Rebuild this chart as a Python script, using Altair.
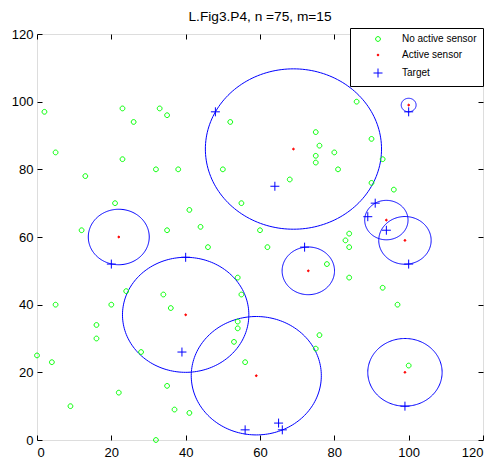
import altair as alt
import pandas as pd
import numpy as np

title_text = "L.Fig3.P4, n =75, m=15"
kinds = ["No active sensor", "Active sensor", "Target"]
tick_values = [0, 20, 40, 60, 80, 100, 120]

# sensors without activity (green circles)
green_x = [2, 23, 33, 35, 26, 5, 23, 52, 75, 76, 75, 75, 80, 86, 90, 13, 32, 38, 21, 41,
           12, 35, 24, 34, 50, 81, 68, 55, 44, 60, 46, 62, 78, 54, 55, 93, 90, 96, 84, 83,
           84, 84, 93, 5, 20, 36, 16, 16, 0, 4, 28, 22, 35, 9, 37, 41, 32, 54, 54, 53,
           76, 75, 56, 97, 100]
green_y = [97, 98, 98, 96, 94, 85, 83, 94, 91, 87, 84, 82, 85, 100, 89, 78, 80, 80, 70, 68,
           62, 62, 44, 43, 80, 80, 77, 70, 63, 62, 57, 57, 52, 48, 43, 83, 76, 74, 61, 59,
           57, 48, 45, 40, 40, 39, 34, 30, 25, 23, 26, 14, 16, 10, 9, 8, 0, 35, 33, 29,
           31, 27, 23, 40, 22]

# active sensors (red dots) and their sensing radius (blue circles)
red_x = [69, 100, 22, 73, 94, 99, 40, 59, 99]
red_y = [86, 99, 60, 50, 65, 59, 37, 19, 20]
radius = [23.7, 2.0, 8.2, 7.05, 5.83, 7.05, 17.0, 17.5, 10.0]

# targets (blue plus)
target_x = [48, 100, 20, 40, 64, 72, 91, 89, 94, 100, 39, 56, 65, 66, 99]
target_y = [97, 97, 52, 54, 75, 57, 70, 66, 62, 52, 26, 3, 5, 3, 10]

W, H = 446, 406
FONT = "Liberation Sans"

points = pd.DataFrame({
    "x": green_x + red_x + target_x,
    "y": green_y + red_y + target_y,
    "kind": [kinds[0]] * len(green_x) + [kinds[1]] * len(red_x) + [kinds[2]] * len(target_x),
})

angles = np.linspace(0, 2 * np.pi, 181)
rows = []
for i, (cx, cy, r) in enumerate(zip(red_x, red_y, radius)):
    for k, a in enumerate(angles):
        rows.append({"cid": i, "k": k, "x": cx + r * np.cos(a), "y": cy + r * np.sin(a)})
circles = pd.DataFrame(rows)

xscale = alt.Scale(domain=[0, 120], nice=False, zero=False)
yscale = alt.Scale(domain=[0, 120], nice=False, zero=False)


def ring_path(r):
    k = round(0.5523 * r, 4)
    return (f"M{r},0 C{r},{k} {k},{r} 0,{r} C{-k},{r} {-r},{k} {-r},0 "
            f"C{-r},{-k} {-k},{-r} 0,{-r} C{k},{-r} {r},{-k} {r},0 Z")


green_shape = ring_path(0.53)
red_shape = ring_path(0.2)
plus_shape = "M-1,0L1,0M0,-1L0,1"

legend = alt.Legend(
    title="", orient="none", legendX=313, legendY=-6, padding=6,
    strokeColor="black", fillColor="white", cornerRadius=0,
    labelFont=FONT, labelFontSize=10, labelColor="black",
    symbolOffset=17, labelOffset=19, rowPadding=6, symbolStrokeWidth=1, symbolSize=81,
)


def tick_axis(orient, offset):
    return alt.Axis(orient=orient, offset=offset, values=tick_values, labels=False,
                    domain=False, grid=False, ticks=True, tickSize=5, tickColor="black",
                    tickWidth=1, title="")


pts = alt.Chart(points).mark_point(filled=False, strokeWidth=1, opacity=1, size=81).encode(
    x=alt.X("x:Q", scale=xscale, title="",
            axis=alt.Axis(values=tick_values, ticks=False, domain=False, grid=False,
                          labelPadding=6, labelFont=FONT, labelFontSize=13, labelColor="black")),
    y=alt.Y("y:Q", scale=yscale, title="",
            axis=alt.Axis(values=tick_values, ticks=False, domain=False, grid=False,
                          labelPadding=4, labelFont=FONT, labelFontSize=13, labelColor="black")),
    color=alt.Color("kind:N", scale=alt.Scale(domain=kinds, range=["#00ff00", "#ff0000", "#0000ff"]), legend=legend),
    fill=alt.Fill("kind:N", scale=alt.Scale(domain=kinds, range=["transparent", "#ff0000", "transparent"]), legend=legend),
    shape=alt.Shape("kind:N", scale=alt.Scale(domain=kinds, range=[green_shape, red_shape, plus_shape]), legend=legend),
)

circ = alt.Chart(circles).mark_line(color="#0000ff", strokeWidth=1).encode(
    x=alt.X("x:Q", scale=xscale, axis=tick_axis("top", -H)),
    y=alt.Y("y:Q", scale=yscale, axis=tick_axis("right", -W)),
    detail="cid:N",
    order="k:Q",
)

ghost = alt.Chart(points).mark_point(opacity=0).encode(
    x=alt.X("x:Q", scale=xscale, axis=tick_axis("bottom", -H)),
    y=alt.Y("y:Q", scale=yscale, axis=tick_axis("left", -W)),
)

chart = alt.layer(circ, ghost, pts).resolve_axis(x="independent", y="independent").properties(
    width=W, height=H,
    title=alt.TitleParams(text=title_text, font=FONT, fontSize=13.7, fontWeight="normal",
                          color="black", offset=4, anchor="middle"),
    padding={"left": 29, "top": 26, "right": 2, "bottom": 18},
    autosize=alt.AutoSizeParams(type="none"),
).configure_view(stroke="black", strokeWidth=1).configure(background="white")

chart.save("out.html", embed_options={"renderer": "svg", "actions": False})
